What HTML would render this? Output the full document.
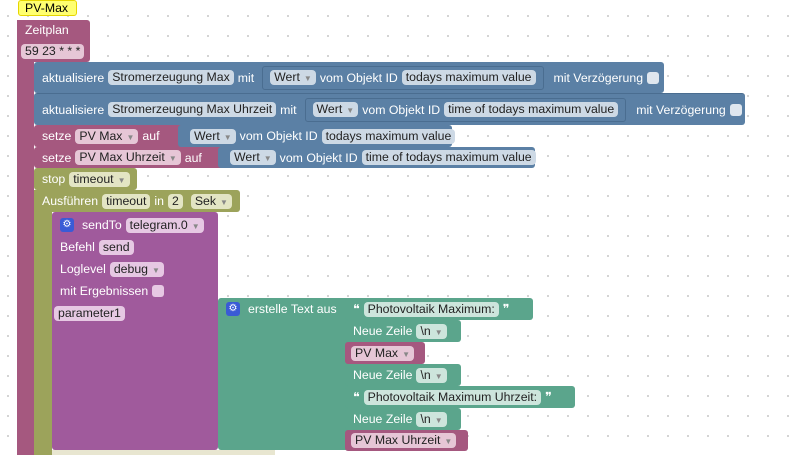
<!DOCTYPE html><html><head><meta charset="utf-8"><style>
body{margin:0;width:794px;height:455px;overflow:hidden;background:#fff;font-family:"Liberation Sans",Arial,sans-serif;font-size:12.3px;position:relative;
background-image:radial-gradient(circle,#c8c8c8 0.8px,transparent 1.1px);background-size:20px 20px;background-position:-2px 6px}
.b{position:absolute;display:flex;align-items:center;color:#fff;box-sizing:border-box;padding-left:8px;white-space:nowrap;border-radius:3px}
.f{display:inline-block;border-radius:4px;padding:0 4px;height:15px;line-height:15px;color:#222;margin:0 4px}
.bl{background:#5b80a5}.pu{background:#a5587f}.ol{background:#9ca35b}.sp{background:#a05a9c}.te{background:#5ba58c}
.bl .f{background:#cdd9e5}.pu .f{background:#e6c6d6}.ol .f{background:#e3e5c4}.sp .f{background:#e6c8e3}.te .f{background:#cde5dc}
.dd{font-size:8px;color:#888;margin-left:4px}
.cb{display:inline-block;width:12px;height:12px;background:#dfe6ee;border-radius:3px;margin-left:4px}
.gear{display:inline-block;width:14px;height:14px;background:#3a5bd6;border-radius:3px;color:#fff;font-size:10px;text-align:center;line-height:14px;margin-right:8px}
.in{border:1px solid #4a6d90;border-radius:3px;display:flex;align-items:center;height:22px;padding:0 3px}
</style></head><body>
<div class="b" style="left:18px;top:0;width:59px;height:16px;background:#ffff70;border:1px solid #e6d600;color:#000;padding-left:6px">PV-Max</div>
<div class="b pu" style="left:17px;top:20px;width:17px;height:435px;border-radius:0"></div>
<div class="b pu" style="left:17px;top:20px;width:73px;height:42px;align-items:flex-start;flex-direction:column;justify-content:space-around;padding-left:4px">
<span style="padding-left:4px">Zeitplan</span><span class="f" style="margin:0">59 23 * * *</span></div>
<div class="b ol" style="left:34px;top:190px;width:18px;height:265px;border-radius:0"></div>
<div class="b bl" style="left:34px;top:62px;width:630px;height:31px">aktualisiere<span class="f">Stromerzeugung Max</span>mit<span class="in" style="margin-left:8px"><span class="f">Wert<span class="dd">▼</span></span>vom Objekt ID<span class="f">todays maximum value</span></span><span style="margin-left:10px">mit Verzögerung</span><span class="cb"></span></div>
<div class="b bl" style="left:34px;top:93px;width:711px;height:32px;border-top:1px solid #4a6d90">aktualisiere<span class="f">Stromerzeugung Max Uhrzeit</span>mit<span class="in" style="margin-left:8px"><span class="f">Wert<span class="dd">▼</span></span>vom Objekt ID<span class="f">time of todays maximum value</span></span><span style="margin-left:10px">mit Verzögerung</span><span class="cb"></span></div>
<div class="b pu" style="left:34px;top:125px;width:150px;height:22px">setze<span class="f">PV Max<span class="dd">▼</span></span>auf</div>
<div class="b bl" style="left:178px;top:125px;width:274px;height:22px"><span class="f">Wert<span class="dd">▼</span></span>vom Objekt ID<span class="f">todays maximum value</span></div>
<div class="b pu" style="left:34px;top:147px;width:190px;height:21px">setze<span class="f">PV Max Uhrzeit<span class="dd">▼</span></span>auf</div>
<div class="b bl" style="left:218px;top:147px;width:317px;height:21px"><span class="f">Wert<span class="dd">▼</span></span>vom Objekt ID<span class="f">time of todays maximum value</span></div>
<div class="b ol" style="left:34px;top:168px;width:103px;height:22px">stop<span class="f">timeout<span class="dd">▼</span></span></div>
<div class="b ol" style="left:34px;top:190px;width:206px;height:22px">Ausführen<span class="f">timeout</span>in<span class="f">2</span><span class="f">Sek<span class="dd">▼</span></span></div>
<div class="b sp" style="left:52px;top:212px;width:166px;height:238px;flex-direction:column;align-items:flex-start;padding-top:2px">
<div style="height:22px;display:flex;align-items:center"><span class="gear">⚙</span>sendTo<span class="f">telegram.0<span class="dd">▼</span></span></div>
<div style="height:22px;display:flex;align-items:center">Befehl<span class="f">send</span></div>
<div style="height:22px;display:flex;align-items:center">Loglevel<span class="f">debug<span class="dd">▼</span></span></div>
<div style="height:22px;display:flex;align-items:center">mit Ergebnissen<span class="cb" style="background:#e6c8e3"></span></div>
<div style="height:22px;display:flex;align-items:center;margin-left:-6px"><span class="f" style="margin:0">parameter1</span></div>
</div>
<div class="b" style="left:52px;top:450px;width:223px;height:5px;background:#e8e6d0;border-radius:0"></div>
<div class="b te" style="left:218px;top:298px;width:132px;height:152px;align-items:flex-start;padding-top:4px"><span class="gear">⚙</span>erstelle Text aus</div>
<div class="b te" style="left:345px;top:298px;width:188px;height:22px">❝<span class="f">Photovoltaik Maximum:</span>❞</div>
<div class="b te" style="left:345px;top:320px;width:116px;height:22px">Neue Zeile<span class="f">\n<span class="dd">▼</span></span></div>
<div class="b pu" style="left:345px;top:342px;width:80px;height:22px;padding-left:6px"><span class="f" style="margin:0">PV Max<span class="dd">▼</span></span></div>
<div class="b te" style="left:345px;top:364px;width:116px;height:22px">Neue Zeile<span class="f">\n<span class="dd">▼</span></span></div>
<div class="b te" style="left:345px;top:386px;width:230px;height:22px">❝<span class="f">Photovoltaik Maximum Uhrzeit:</span>❞</div>
<div class="b te" style="left:345px;top:408px;width:116px;height:22px">Neue Zeile<span class="f">\n<span class="dd">▼</span></span></div>
<div class="b pu" style="left:345px;top:430px;width:123px;height:21px;padding-left:6px"><span class="f" style="margin:0">PV Max Uhrzeit<span class="dd">▼</span></span></div>
</body></html>
